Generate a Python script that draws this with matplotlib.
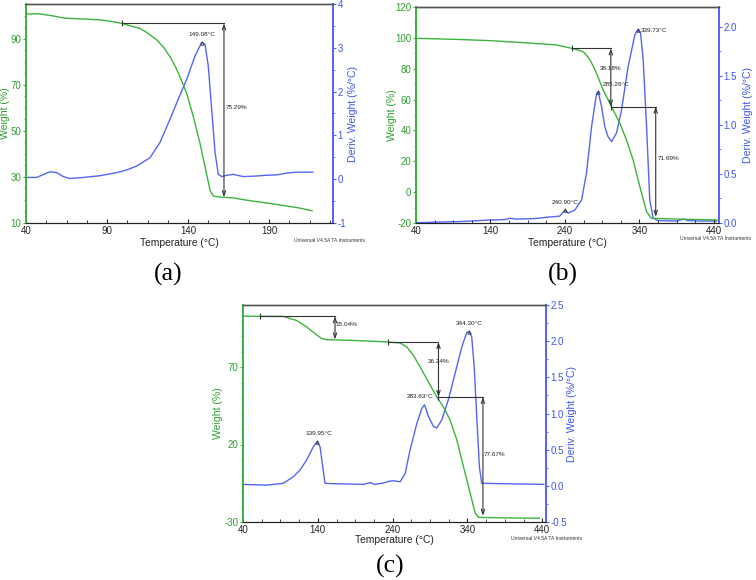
import matplotlib
matplotlib.use("Agg")
import matplotlib.pyplot as plt
from matplotlib.ticker import AutoMinorLocator, FormatStrFormatter

plt.rcParams['font.family'] = ['Liberation Sans', 'DejaVu Sans']
plt.rcParams['axes.unicode_minus'] = False

GREEN = '#3cb43c'
GREEN_T = '#2e9e2e'
BLUE = '#5565f5'
BLUE_T = '#3f55ee'
ANN = '#333333'

# ---------------- Panel (a) ----------------
a_temp_w = [40, 48.6, 56.9, 61, 65, 75, 85.7, 92, 99, 104, 110.4, 115, 120.7, 125, 128.9, 132,
            135, 139.2, 143.3, 147.4, 150.5, 153.6, 155.6, 158, 161.8, 167.8, 178.3, 188.6, 199, 209, 216.6]
a_weight = [100.9, 100.9, 100.0, 99.4, 99.0, 98.7, 98.3, 97.7, 96.8, 95.8, 94.6, 92.6, 89.6, 86.3, 82.3, 78.3,
            73.6, 66.4, 56.2, 44.6, 34.5, 24.3, 21.7, 21.4, 21.2, 20.9, 19.7, 18.7, 17.6, 16.5, 15.3]
a_temp_d = [40, 46.6, 51, 54.8, 59, 63, 67, 75.3, 85.7, 96, 102, 108.3, 116.5, 122.7, 128.9, 134, 139.2,
            144.3, 148.4, 150.5, 152.5, 154.6, 156.7, 158.7, 160.8, 164, 168, 174, 181, 188.6, 195, 201, 207, 212, 217]
a_deriv = [0.04, 0.04, 0.11, 0.17, 0.15, 0.06, 0.015, 0.04, 0.08, 0.15, 0.21, 0.30, 0.49, 0.84, 1.37, 1.83, 2.28,
           2.81, 3.12, 3.08, 2.59, 1.60, 0.61, 0.11, 0.06, 0.09, 0.11, 0.06, 0.07, 0.09, 0.10, 0.14, 0.16, 0.16, 0.16]
a_xticks = [40, 90, 140, 190]
a_wticks = [10, 30, 50, 70, 90]
a_dticks = [-1, 0, 1, 2, 3, 4]
# steps: (T start, T end, weight top, weight bottom, label)
a_steps = [(99, 162.2, 96.8, 21.2, '75.29%')]
# step label anchors (T left edge, weight)
a_step_labels = [(163, 60.3)]
# peaks: (T, deriv, label)
a_peaks = [(148.8, 3.12, '149.08°C')]

# ---------------- Panel (b) ----------------
b_temp_w = [40, 94.6, 139, 184, 229, 249, 256, 264.6, 269, 273.6, 278, 282.5, 291.4, 302.7, 313.8, 322.8,
            331.7, 340.7, 349.7, 356.4, 361, 394, 444]
b_weight = [99.7, 99.0, 98.2, 96.9, 95.4, 93.2, 92.4, 91.0, 88.8, 85.7, 81.8, 77.0, 66.2, 55.4, 44.6, 33.8,
            20.8, 3.5, -12.7, -17.0, -17.0, -17.5, -18.0]
b_temp_d = [40, 100, 139, 160, 166, 175, 200, 215, 233, 240, 244.4, 253.4, 262.4, 269, 275.8, 282.5, 284.7,
            289.2, 293.7, 298, 302.7, 309.4, 316, 325, 334, 337.6, 341.6, 345.2, 349.7, 354, 358.5, 365, 390,
            400, 405, 420, 444]
b_deriv = [0.003, 0.015, 0.03, 0.035, 0.048, 0.04, 0.045, 0.058, 0.07, 0.13, 0.10, 0.133, 0.235, 0.51, 0.98,
           1.32, 1.34, 1.19, 0.98, 0.88, 0.83, 0.92, 1.15, 1.6, 1.92, 1.97, 1.94, 1.66, 0.98, 0.235, 0.05, 0.025,
           0.02, 0.04, 0.025, 0.02, 0.02]
b_xticks = [40, 140, 240, 340, 440]
b_wticks = [-20, 0, 20, 40, 60, 80, 100, 120]
b_dticks = [0.0, 0.5, 1.0, 1.5, 2.0]
b_steps = [(249, 301.7, 93.2, 55.4, '38.18%'), (301.7, 362, 55.4, -16.0, '71.69%')]
b_step_labels = [(287, 80.0), (364, 21.9)]
b_peaks = [(240.0, 0.133, '240.90°C'), (285.0, 1.34, '285.26°C'), (337.6, 1.97, '339.73°C')]

# ---------------- Panel (c) ----------------
c_temp_w = [40, 94, 111.8, 125.2, 136.3, 145.3, 152, 183, 209.9, 234.4, 250, 259, 267.8, 276.8, 287.9, 299,
            308, 316.9, 325.9, 334.7, 343.7, 350.4, 354.8, 383.8, 436]
c_weight = [102.8, 102.6, 100.0, 95.8, 91.5, 88.3, 87.6, 87.2, 86.7, 86.1, 85.5, 82.9, 77.5, 70.0, 60.3, 50.7,
            44.2, 35.7, 22.8, 5.6, -11.5, -24.4, -27.0, -27.3, -27.6]
c_temp_d = [40, 71.7, 94, 107.3, 116.3, 125.2, 134, 139.4, 143, 146.6, 149.7, 160, 201, 210, 216, 228, 236.6,
            241, 250, 256.7, 263.4, 272.3, 279, 282.6, 287.9, 294.6, 299, 305.6, 314.5, 323.6, 332.5, 339, 342.6,
            345.7, 349, 352.4, 356, 359.1, 383.8, 442]
c_deriv = [0.02, 0.01, 0.035, 0.126, 0.22, 0.36, 0.54, 0.61, 0.54, 0.26, 0.035, 0.03, 0.02, 0.045, 0.02, 0.04,
           0.066, 0.07, 0.056, 0.17, 0.5, 0.86, 1.07, 1.12, 0.96, 0.82, 0.8, 0.91, 1.19, 1.56, 1.92, 2.12, 2.13,
           2.06, 1.65, 0.96, 0.26, 0.035, 0.03, 0.02]
c_xticks = [40, 140, 240, 340, 440]
c_wticks = [-30, 20, 70]
c_dticks = [-0.5, 0.0, 0.5, 1.0, 1.5, 2.0, 2.5]
c_steps = [(62.7, 163, 102.8, 87.8, '15.04%'), (234.4, 301.3, 86.1, 50.7, '36.24%'),
           (301.3, 360.7, 50.7, -26.0, '77.67%')]
c_step_labels = [(164, 97.3), (287, 73.7), (362, 13.8)]
c_peaks = [(139.4, 0.61, '139.95°C'), (342.6, 2.13, '344.30°C')]
c_onset = (295, 50.9, '283.63°C')

W, H = 756, 580
fig = plt.figure(figsize=(W / 100, H / 100), dpi=100)


def rect(l, r, t, b):
    return [l / W, 1 - b / H, (r - l) / W, (b - t) / H]


def panel(box, xlim, xticks, tw, wv, wlim, wticks, wminor, td, dv, dlim, dticks, dfmt,
          labx_l, labx_r, laby, ux, uy):
    ax = fig.add_axes(box)
    ax2 = ax.twinx()
    ax.plot(tw, wv, color=GREEN, lw=1.0, zorder=3)
    ax2.plot(td, dv, color=BLUE, lw=1.0, zorder=3)
    ax.set_xlim(*xlim)
    ax.set_ylim(*wlim)
    ax2.set_ylim(*dlim)
    ax.set_xticks(xticks)
    ax.set_yticks(wticks)
    ax2.set_yticks(dticks)
    ax2.yaxis.set_major_formatter(FormatStrFormatter(dfmt))
    ax.xaxis.set_minor_locator(AutoMinorLocator(4))
    ax.yaxis.set_minor_locator(AutoMinorLocator(wminor))
    ax2.yaxis.set_minor_locator(AutoMinorLocator(2))
    ax.tick_params(axis='x', direction='in', length=3, width=0.8, labelsize=7.0, pad=2, colors='#222222')
    ax.tick_params(axis='x', which='minor', direction='in', length=2, width=0.6, colors='#222222')
    ax.tick_params(axis='y', direction='out', length=2.5, width=0.8, labelsize=7.0, pad=1.0,
                   colors=GREEN, labelcolor=GREEN_T)
    ax.tick_params(axis='y', which='minor', direction='out', length=1.5, width=0.6, colors=GREEN)
    ax2.tick_params(axis='y', direction='out', length=2.5, width=0.8, labelsize=7.0, pad=0.8,
                    colors=BLUE, labelcolor=BLUE_T)
    ax2.tick_params(axis='y', which='minor', direction='out', length=1.5, width=0.6, colors=BLUE)
    for a in (ax, ax2):
        a.spines['left'].set_color(GREEN)
        a.spines['left'].set_linewidth(1.3)
        a.spines['right'].set_color(BLUE)
        a.spines['right'].set_linewidth(1.3)
        a.spines['top'].set_color('#555555')
        a.spines['top'].set_linewidth(1.0)
        a.spines['bottom'].set_color('#222222')
        a.spines['bottom'].set_linewidth(0.8)
    ax.set_xlabel('Temperature (°C)', fontsize=7.4, color='#222222')
    ax.xaxis.set_label_coords(0.5, laby)
    ax.set_ylabel('Weight (%)', fontsize=7.6, color=GREEN_T)
    ax.yaxis.set_label_coords(labx_l, 0.5)
    ax2.set_ylabel('Deriv. Weight (%/°C)', fontsize=7.6, color=BLUE_T, rotation=90)
    ax2.yaxis.set_label_coords(labx_r, 0.5)
    ax.text(ux, uy, 'Universal V4.5A TA Instruments', transform=ax.transAxes,
            fontsize=3.6, color='#333333', ha='center', va='center')
    ax.set_zorder(ax2.get_zorder() + 1)
    ax.patch.set_visible(False)
    return ax, ax2


def draw_steps(ax, steps, labels):
    for (t0, t1, w0, w1, lab), (lx, ly) in zip(steps, labels):
        ax.plot([t0, t1], [w0, w0], color=ANN, lw=0.8, zorder=4)
        ax.plot([t0], [w0], marker='|', ms=4, color=ANN, mew=0.8, zorder=4)
        ax.annotate('', xy=(t1, w1), xytext=(t1, w0),
                    arrowprops=dict(arrowstyle='<->,head_length=0.35,head_width=0.12',
                                    color=ANN, lw=0.8, shrinkA=0, shrinkB=0), zorder=4)
        ax.text(lx, ly, lab, fontsize=4.6, color='#222222', ha='left', va='center', zorder=5)


def draw_peaks(ax2, peaks, specs):
    for (t, d, lab), (dx, dy, ha) in zip(peaks, specs):
        ax2.plot([t], [d], marker='^', ms=2.5, mfc='none', mec=ANN, mew=0.6, zorder=5)
        ax2.text(t + dx, d + dy, lab, fontsize=4.6, color='#222222', ha=ha, va='center', zorder=5)


# (a)
ax, ax2 = panel(rect(26, 333, 4, 223), (40, 229.5), a_xticks, a_temp_w, a_weight, (10, 105.2), a_wticks, 4,
                a_temp_d, a_deriv, (-1, 4), a_dticks, '%d', -0.052, 1.05, -0.068, 0.99, -0.078)
draw_steps(ax, a_steps, a_step_labels)
draw_peaks(ax2, a_peaks, [(0, 0.19, 'center')])

# (b)
ax, ax2 = panel(rect(416, 719, 7, 223), (40, 447), b_xticks, b_temp_w, b_weight, (-20, 120), b_wticks, 2,
                b_temp_d, b_deriv, (0, 2.204), b_dticks, '%.1f', -0.062, 1.08, -0.068, 0.99, -0.074)
draw_steps(ax, b_steps, b_step_labels)
draw_peaks(ax2, b_peaks, [(0, 0.08, 'center'), (6, 0.07, 'left'), (4, -0.01, 'left')])

# (c)
ax, ax2 = panel(rect(243, 546, 305, 522), (40, 445), c_xticks, c_temp_w, c_weight, (-30, 110), c_wticks, 5,
                c_temp_d, c_deriv, (-0.5, 2.5), c_dticks, '%.1f', -0.066, 1.068, -0.06, 1.0, -0.078)
draw_steps(ax, c_steps, c_step_labels)
draw_peaks(ax2, c_peaks, [(1.5, 0.12, 'center'), (0, 0.11, 'center')])
ax.text(c_onset[0], c_onset[1], c_onset[2], fontsize=4.6, color='#222222', ha='right', va='center', zorder=5)

fig.text(168 / W, 1 - 274 / H, '(a)', fontsize=18.5, family=['Liberation Serif'], ha='center', va='center')
fig.text(563 / W, 1 - 274 / H, '(b)', fontsize=18.5, family=['Liberation Serif'], ha='center', va='center')
fig.text(390 / W, 1 - 566 / H, '(c)', fontsize=18.5, family=['Liberation Serif'], ha='center', va='center')

fig.savefig('out.png', dpi=100)
